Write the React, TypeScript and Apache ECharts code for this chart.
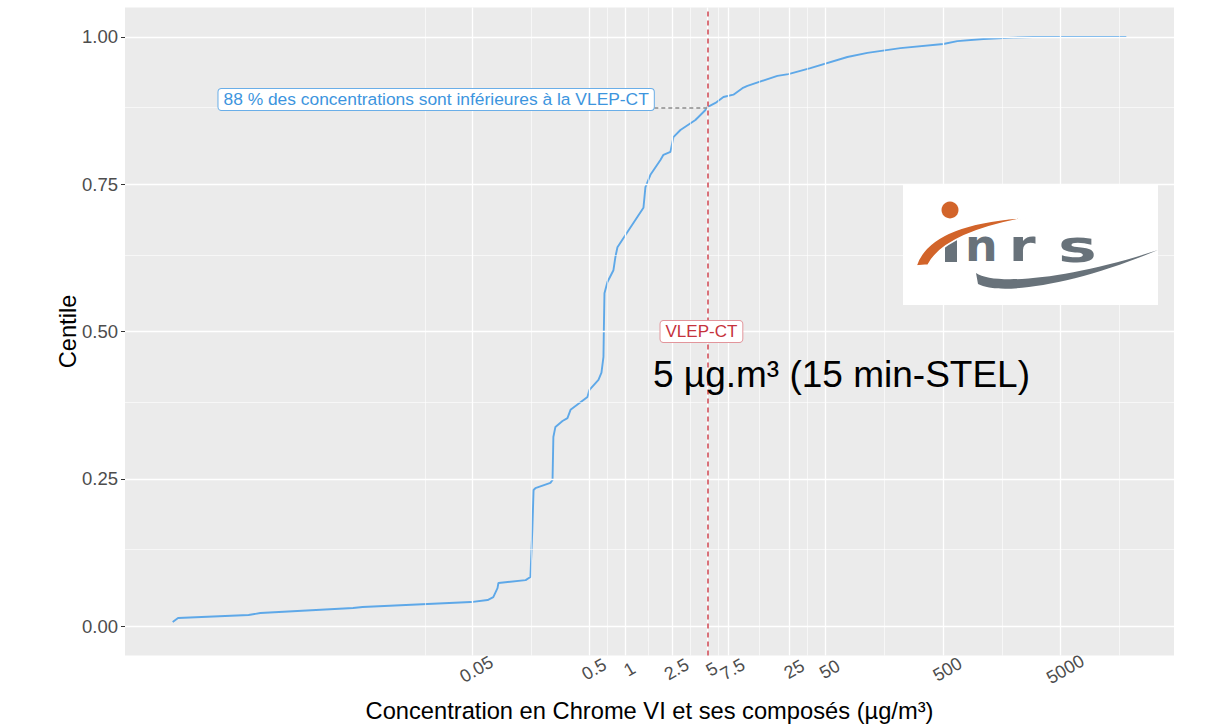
import React, { useEffect, useRef } from "react";
import * as echarts from "echarts";

// ---- Data ----
const concentrations = [
  0.000144, 0.00016, 0.000635, 0.0008, 0.0049, 0.0059, 0.049, 0.068, 0.076, 0.0825,
  0.084, 0.143, 0.157, 0.163, 0.167, 0.173, 0.232, 0.242, 0.246, 0.256,
  0.294, 0.324, 0.344, 0.479, 0.498, 0.594, 0.63, 0.655, 0.66, 0.668,
  0.708, 0.796, 0.828, 0.861, 1.047, 1.431, 1.488, 1.641, 1.995, 2.116,
  2.426, 2.572, 2.95, 3.955, 4.81, 5.0, 5.85, 6.84, 8.31, 9.91,
  10.93, 19.65, 24.36, 37.44, 77.2, 114.1, 217.5, 504, 662, 1102,
  1980, 2927, 18030,
];
const centiles = [
  0.0068, 0.0136, 0.0187, 0.0221, 0.0306, 0.0323, 0.0407, 0.0441, 0.0492, 0.0645,
  0.073, 0.078, 0.0832, 0.163, 0.231, 0.234, 0.243, 0.248, 0.321, 0.338,
  0.348, 0.353, 0.367, 0.389, 0.401, 0.418, 0.43, 0.457, 0.503, 0.565,
  0.584, 0.604, 0.627, 0.643, 0.669, 0.71, 0.745, 0.766, 0.791, 0.8,
  0.805, 0.83, 0.842, 0.859, 0.876, 0.881, 0.888, 0.898, 0.902, 0.913,
  0.917, 0.934, 0.937, 0.947, 0.966, 0.973, 0.981, 0.988, 0.993, 0.9966,
  0.9988, 1.0, 1.0,
];
const xTickValues = [0.05, 0.5, 1, 2.5, 5, 7.5, 25, 50, 500, 5000];
const xTickLabels = ["0.05", "0.5", "1", "2.5", "5", "7.5", "25", "50", "500", "5000"];
const yTickValues = [0, 0.25, 0.5, 0.75, 1];
const yTickLabels = ["0.00", "0.25", "0.50", "0.75", "1.00"];
const yMinorValues = [0.125, 0.375, 0.625, 0.875];
const vlepValue = 5;
const vlepCentile = 0.88;
const noteEndConcentration = 1.77;
const noteCentile = 0.894;
const vlepLabelCentile = 0.5;
const noteText = "88 % des concentrations sont inférieures à la VLEP-CT";
const vlepLabelText = "VLEP-CT";
const bigText = "5 µg.m³ (15 min-STEL)";
const xTitle = "Concentration en Chrome VI et ses composés (µg/m³)";
const yTitle = "Centile";

const FONT = '"Liberation Sans", Arial, Helvetica, sans-serif';

// INRS logo shapes
const ORANGE_SWOOSH = "M 916 266 Q 930 222 1032 217 Q 945 232 928 265 Z";
const GREY_SWOOSH = "M 976 273 C 995 286 1070 279 1158 250 C 1075 285 1000 296 978 284 Z";
echarts.graphic.registerShape("inrsOrange", echarts.graphic.extendPath(ORANGE_SWOOSH, {}));
echarts.graphic.registerShape("inrsGrey", echarts.graphic.extendPath(GREY_SWOOSH, {}));

export default function App() {
  const ref = useRef<HTMLDivElement>(null);

  useEffect(() => {
    if (!ref.current) return;
    const chart = echarts.init(ref.current, undefined, { renderer: "svg" });

    // ggplot-like 5% expansion in log space
    const logs = concentrations.map((c) => Math.log10(c));
    const lmin = Math.min(...logs);
    const lmax = Math.max(...logs);
    const span = lmax - lmin;
    const xMin = Math.pow(10, lmin - 0.05 * span);
    const xMax = Math.pow(10, lmax + 0.05 * span);

    // minor breaks (midpoints in log space, ggplot style)
    const mj = xTickValues.map((v) => Math.log10(v));
    const ext = [mj[0] - (mj[1] - mj[0]), ...mj, mj[mj.length - 1] + (mj[mj.length - 1] - mj[mj.length - 2])];
    const minorLogs: number[] = [];
    for (let i = 0; i < ext.length - 1; i++) {
      minorLogs.push(ext[i]);
      minorLogs.push((ext[i] + ext[i + 1]) / 2);
    }
    const xMinor = minorLogs
      .filter((l) => !mj.some((m) => Math.abs(m - l) < 1e-9))
      .map((l) => Math.pow(10, l))
      .filter((v) => v > xMin && v < xMax);

    const major = { color: "#ffffff", width: 1.3, type: "solid" as const };
    const minor = { color: "#ffffff", width: 0.6, type: "solid" as const };
    const gridLines: any[] = [
      ...xTickValues.map((v) => ({ xAxis: v, lineStyle: major })),
      ...xMinor.map((v) => ({ xAxis: v, lineStyle: minor })),
      ...yTickValues.map((v) => ({ yAxis: v, lineStyle: major })),
      ...yMinorValues.map((v) => ({ yAxis: v, lineStyle: minor })),
    ];

    const xLabelFor = (v: number) => {
      let best = 0;
      let bd = Infinity;
      xTickValues.forEach((t, i) => {
        const d = Math.abs(Math.log10(t) - Math.log10(v));
        if (d < bd) {
          bd = d;
          best = i;
        }
      });
      return xTickLabels[best];
    };
    const yLabelFor = (v: number) => {
      const i = yTickValues.findIndex((t) => Math.abs(t - v) < 1e-9);
      return i >= 0 ? yTickLabels[i] : v.toFixed(2);
    };

    const grey = "#68727A";
    const orange = "#D2642A";
    const logoFont = '"DejaVu Sans", sans-serif';
    const letter = (text: string, x: number, sx: number) => ({
      type: "text",
      x,
      y: 246,
      z: 101,
      scaleX: sx,
      style: { text, fill: grey, fontSize: 45, fontWeight: "bold", fontFamily: logoFont, align: "left", verticalAlign: "middle" },
    });

    chart.setOption({
      animation: false,
      backgroundColor: "#ffffff",
      grid: {
        left: 125,
        right: 41,
        top: 7.5,
        bottom: 69.5,
        show: true,
        backgroundColor: "#EBEBEB",
        borderWidth: 0,
        containLabel: false,
        outerBoundsMode: "none",
      },
      xAxis: {
        type: "log",
        logBase: 10,
        min: xMin,
        max: xMax,
        axisLine: { show: false },
        axisTick: { show: true, customValues: xTickValues, length: 4, lineStyle: { color: "#333333", width: 1 } },
        axisLabel: {
          customValues: xTickValues,
          formatter: (v: number) => xLabelFor(v),
          rotate: 30,
          align: "center",
          verticalAlign: "top",
          margin: 6,
          color: "#4D4D4D",
          fontSize: 18,
          fontFamily: FONT,
        },
        splitLine: { show: false },
        minorTick: { show: false },
        minorSplitLine: { show: false },
        name: xTitle,
        nameLocation: "middle",
        nameGap: 43,
        nameMoveOverlap: false,
        nameTextStyle: { fontSize: 23.7, color: "#000000", fontFamily: FONT },
      },
      yAxis: {
        type: "value",
        min: -0.05,
        max: 1.05,
        axisLine: { show: false },
        axisTick: { show: true, customValues: yTickValues, length: 4, lineStyle: { color: "#333333", width: 1 } },
        axisLabel: {
          customValues: yTickValues,
          formatter: (v: number) => yLabelFor(v),
          margin: 7,
          color: "#4D4D4D",
          fontSize: 18.5,
          fontFamily: FONT,
        },
        splitLine: { show: false },
        name: yTitle,
        nameLocation: "middle",
        nameRotate: 90,
        nameGap: 45,
        nameMoveOverlap: false,
        nameTextStyle: { fontSize: 23.7, color: "#000000", fontFamily: FONT },
      },
      series: [
        {
          type: "line",
          data: [],
          z: 1,
          silent: true,
          markLine: {
            silent: true,
            symbol: ["none", "none"],
            label: { show: false },
            emphasis: { disabled: true },
            animation: false,
            data: gridLines,
          },
        },
        {
          type: "line",
          data: concentrations.map((c, i) => [c, centiles[i]]),
          showSymbol: false,
          symbol: "none",
          silent: true,
          z: 3,
          lineStyle: { color: "#5EA8E8", width: 1.9 },
        },
        {
          type: "line",
          data: [],
          z: 4,
          silent: true,
          markLine: {
            silent: true,
            symbol: ["none", "none"],
            label: { show: false },
            emphasis: { disabled: true },
            animation: false,
            data: [
              { xAxis: vlepValue, lineStyle: { color: "#D2505A", width: 1.6, type: [5, 4] } },
              [
                { coord: [noteEndConcentration, vlepCentile], lineStyle: { color: "#8C8C8C", width: 1.5, type: [4, 3] } },
                { coord: [vlepValue, vlepCentile], lineStyle: { color: "#8C8C8C", width: 1.5, type: [4, 3] } },
              ],
            ],
          },
          markPoint: {
            silent: true,
            animation: false,
            data: [
              {
                coord: [noteEndConcentration, noteCentile],
                symbol: "rect",
                symbolSize: 1,
                itemStyle: { color: "rgba(0,0,0,0)" },
                label: {
                  show: true,
                  position: "left",
                  distance: 0,
                  formatter: noteText,
                  color: "#3D95DE",
                  fontSize: 17.4,
                  fontFamily: FONT,
                  lineHeight: 17,
                  backgroundColor: "#ffffff",
                  borderColor: "#6AAEE8",
                  borderWidth: 1,
                  borderRadius: 3,
                  padding: [2, 5, 2, 5],
                },
              },
              {
                coord: [vlepValue, vlepLabelCentile],
                symbol: "rect",
                symbolSize: 1,
                itemStyle: { color: "rgba(0,0,0,0)" },
                label: {
                  show: true,
                  position: "inside",
                  offset: [-6, 0],
                  formatter: vlepLabelText,
                  color: "#C6323C",
                  fontSize: 17,
                  fontFamily: FONT,
                  lineHeight: 17,
                  backgroundColor: "#ffffff",
                  borderColor: "#E2959B",
                  borderWidth: 1,
                  borderRadius: 3,
                  padding: [2, 5, 2, 5],
                },
              },
            ],
          },
        },
      ],
      graphic: [
        {
          type: "text",
          x: 653,
          y: 374,
          z: 100,
          style: {
            text: bigText,
            fill: "#000000",
            fontSize: 37,
            fontFamily: FONT,
            align: "left",
            verticalAlign: "middle",
          },
        },
        {
          type: "group",
          z: 100,
          children: [
            { type: "rect", shape: { x: 903, y: 185, width: 255, height: 120 }, style: { fill: "#ffffff" }, z: 100 },
            { type: "inrsGrey", x: 0, y: 0, style: { fill: grey }, z: 101 },
            { type: "rect", shape: { x: 945, y: 237, width: 12, height: 25 }, style: { fill: grey }, z: 101 },
            letter("n", 965, 1.02),
            letter("r", 1009, 1.2),
            letter("s", 1058, 1.45),
            { type: "inrsOrange", x: 0, y: 0, style: { fill: orange, stroke: "#ffffff", lineWidth: 1.5 }, z: 102 },
            { type: "circle", shape: { cx: 950, cy: 210, r: 8.5 }, style: { fill: orange }, z: 102 },
          ],
        },
      ],
    });

    return () => {
      chart.dispose();
    };
  }, []);

  return (
    <div
      ref={ref}
      style={{ position: "fixed", left: 0, top: 0, width: 1215, height: 725, background: "#ffffff" }}
    />
  );
}
